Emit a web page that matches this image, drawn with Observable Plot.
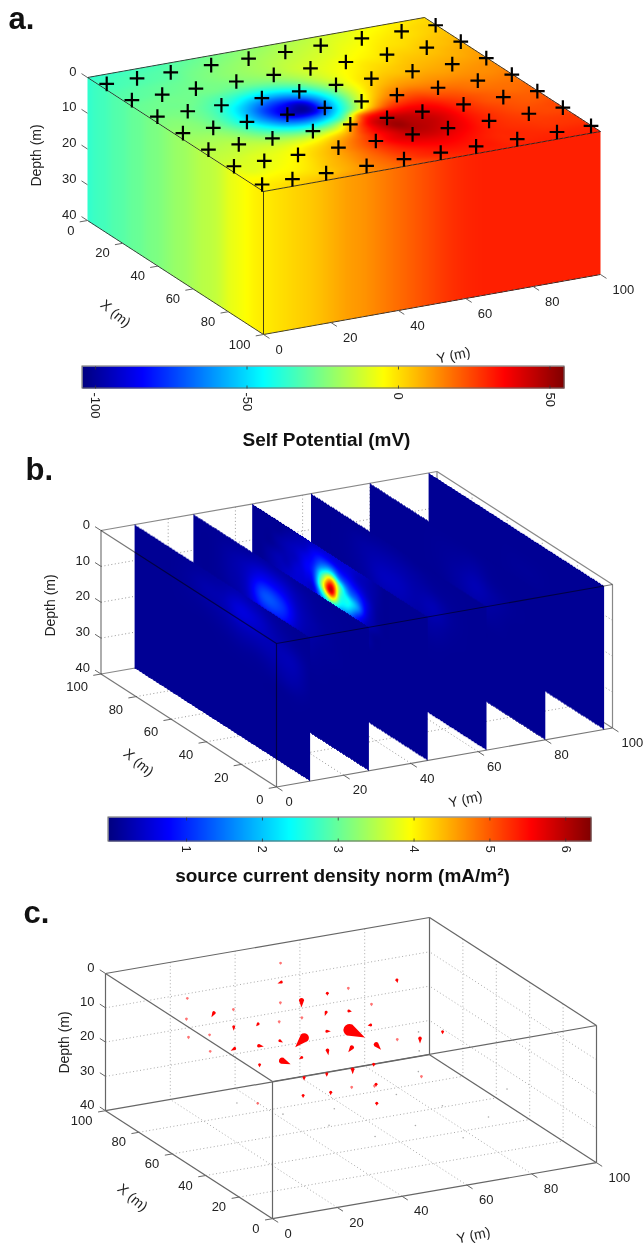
<!DOCTYPE html>
<html><head><meta charset="utf-8">
<script src="https://cdn.jsdelivr.net/npm/d3@7"></script>
<script src="https://cdn.jsdelivr.net/npm/@observablehq/plot@0.6"></script>
<style>html,body{margin:0;background:#fff}svg{display:block}</style>
</head><body><div id="chart"></div>
<script>
// ---------- data ----------
// Self potential (mV) on the top surface: rows X = 0..100 by 5, columns Y = 0..100 by 5
const potentialRows = [
[-37,-36,-35,-34,-33,-31,-29,-27,-25,-23,-21,-19,-17,-15,-12,-10,-7,-5,-3,-1,1],
[-35,-34,-33,-32,-31,-29,-27,-25,-23,-21,-19,-17,-15,-13,-10,-8,-5,-3,-1,1,2],
[-34,-33,-32,-31,-30,-27,-25,-23,-21,-19,-17,-15,-13,-11,-8,-6,-3,-1,0,2,4],
[-32,-31,-30,-29,-28,-26,-24,-22,-20,-18,-15,-13,-11,-9,-6,-4,-1,0,2,4,5],
[-31,-30,-29,-28,-27,-26,-25,-23,-21,-18,-14,-11,-9,-6,-4,-2,1,2,4,5,7],
[-29,-28,-27,-27,-27,-27,-28,-27,-25,-21,-16,-11,-7,-4,-1,0,3,4,5,7,8],
[-28,-27,-27,-27,-30,-33,-36,-38,-35,-29,-20,-12,-6,-2,1,3,5,6,7,8,10],
[-26,-26,-26,-29,-34,-41,-50,-54,-52,-42,-28,-15,-5,1,4,5,7,8,9,10,11],
[-25,-24,-26,-30,-39,-52,-65,-73,-71,-57,-37,-18,-4,4,8,9,10,10,11,12,13],
[-23,-23,-25,-31,-42,-59,-77,-88,-95,-67,-41,-17,0,10,13,13,13,13,13,13,14],
[-21,-22,-24,-30,-42,-59,-77,-95,-95,-64,-36,-10,8,17,20,18,17,16,15,15,16],
[-20,-20,-21,-26,-36,-50,-65,-73,-68,-48,-21,3,20,26,27,23,21,18,17,17,17],
[-18,-18,-18,-21,-28,-36,-45,-48,-41,-23,20,32,34,35,33,28,24,21,19,18,19],
[-16,-16,-15,-16,-19,-22,-25,-23,-14,12,38,45,44,41,37,31,26,22,21,20,20],
[-15,-14,-13,-12,-12,-11,-9,-3,6,25,40,50,46,44,39,32,27,24,22,21,22],
[-13,-12,-10,-9,-7,-3,1,8,17,28,38,46,46,43,38,32,28,25,23,23,24],
[-9,-10,-9,-7,-4,1,6,13,21,30,38,42,43,40,36,31,28,26,25,24,24],
[-7,-9,-7,-5,-2,3,8,14,21,28,34,37,38,36,33,30,28,27,26,26,26],
[-5,-5,-4,-3,0,5,9,15,20,26,30,33,34,33,31,29,29,28,27,27,27],
[-3,-2,-1,1,2,6,10,15,19,24,28,30,31,31,31,29,29,29,29,29,29],
[-2,0,2,4,7,10,12,15,18,21,24,27,29,30,30,30,30,30,30,30,30]];
// Electrodes ("+") on the top surface
const electrodeX = [6.7,21,35.5,50,64.5,79,95];
const electrodeY = [2.2,11.2,21.2,33.2,44.3,55.2,65.7,77.9,89.7,99.8];

// Source current density norm (mA/m2) on six vertical slices
const sliceY = [10,27.5,45,62.5,80,97.5];
// coarse slices: rows depth 0..40 by 5, columns X 0..100 by 10
const slice10 = [
[.1,.1,.15,.25,.3,.2,.15,.12,.1,.1,.1],
[.1,.15,.25,.45,.55,.3,.25,.15,.1,.1,.1],
[.12,.3,.3,.3,.3,.2,.15,.12,.1,.1,.1],
[.12,.25,.2,.15,.15,.12,.1,.1,.1,.1,.1],
[.1,.12,.1,.1,.1,.1,.1,.1,.1,.1,.1],
[.1,.1,.1,.1,.1,.1,.1,.1,.1,.1,.1],
[.1,.1,.1,.1,.1,.1,.1,.1,.1,.1,.1],
[.1,.1,.1,.1,.1,.1,.1,.1,.1,.1,.1],
[.1,.1,.1,.1,.1,.1,.1,.1,.1,.1,.1]];
const slice27 = [
[.1,.1,.1,.12,.15,.2,.2,.15,.12,.1,.1],
[.1,.1,.12,.15,.3,.6,.65,.35,.2,.1,.1],
[.1,.1,.12,.2,.4,1.1,1.25,.4,.2,.1,.1],
[.1,.1,.12,.15,.3,.7,.7,.3,.15,.1,.1],
[.1,.1,.1,.12,.15,.25,.25,.15,.1,.1,.1],
[.1,.1,.1,.1,.1,.1,.1,.1,.1,.1,.1],
[.1,.1,.1,.1,.1,.1,.1,.1,.1,.1,.1],
[.1,.1,.1,.1,.1,.1,.1,.1,.1,.1,.1],
[.1,.1,.1,.1,.1,.1,.1,.1,.1,.1,.1]];
// finest slice: rows depth 0..40 by 2.5, columns X 0..100 by 5
const slice45 = [
[.1,.1,.1,.1,.1,.1,.2,.3,.4,.5,.5,.5,.5,.4,.3,.2,.1,.1,.1,.1,.1],
[.1,.1,.1,.1,.1,.1,.2,.3,.4,.6,.7,.9,.9,.7,.4,.3,.2,.1,.1,.1,.1],
[.1,.1,.1,.1,.1,.1,.2,.4,.7,1.0,1.4,2.3,1.7,.9,.6,.4,.3,.2,.1,.1,.1],
[.1,.1,.1,.1,.1,.1,.2,.6,1.2,1.6,2.9,4.8,3.0,1.1,.7,.4,.3,.2,.1,.1,.1],
[.1,.1,.1,.1,.1,.1,.2,.6,1.7,2.4,2.8,5.9,3.6,1.0,.6,.5,.3,.3,.2,.1,.1],
[.1,.1,.1,.1,.1,.1,.2,.4,1.0,1.9,2.3,3.5,2.2,.6,.5,.5,.4,.3,.2,.1,.1],
[.1,.1,.1,.1,.1,.1,.1,.2,.4,.6,1.0,1.1,.8,.5,.5,.5,.4,.3,.2,.1,.1],
[.1,.1,.1,.1,.1,.1,.1,.2,.2,.3,.5,.5,.5,.5,.5,.4,.4,.3,.2,.1,.1],
[.1,.1,.1,.1,.1,.1,.1,.1,.1,.2,.2,.3,.3,.4,.4,.4,.3,.3,.2,.1,.1],
[.1,.1,.1,.1,.1,.1,.1,.1,.1,.1,.1,.2,.3,.3,.3,.3,.3,.3,.2,.1,.1],
[.1,.1,.1,.1,.1,.1,.1,.1,.1,.1,.1,.1,.2,.2,.2,.2,.2,.2,.1,.1,.1],
[.1,.1,.1,.1,.1,.1,.1,.1,.1,.1,.1,.1,.1,.1,.1,.1,.1,.1,.1,.1,.1],
[.1,.1,.1,.1,.1,.1,.1,.1,.1,.1,.1,.1,.1,.1,.1,.1,.1,.1,.1,.1,.1],
[.1,.1,.1,.1,.1,.1,.1,.1,.1,.1,.1,.1,.1,.1,.1,.1,.1,.1,.1,.1,.1],
[.1,.1,.1,.1,.1,.1,.1,.1,.1,.1,.1,.1,.1,.1,.1,.1,.1,.1,.1,.1,.1],
[.1,.1,.1,.1,.1,.1,.1,.1,.1,.1,.1,.1,.1,.1,.1,.1,.1,.1,.1,.1,.1],
[.1,.1,.1,.1,.1,.1,.1,.1,.1,.1,.1,.1,.1,.1,.1,.1,.1,.1,.1,.1,.1]];
const slice62 = [
[.1,.1,.1,.1,.1,.12,.12,.1,.1,.1,.1],
[.1,.1,.12,.15,.2,.25,.25,.2,.12,.1,.1],
[.1,.1,.15,.3,.25,.35,.35,.2,.12,.1,.1],
[.1,.1,.12,.2,.2,.25,.25,.15,.1,.1,.1],
[.1,.1,.1,.12,.12,.12,.12,.1,.1,.1,.1],
[.1,.1,.1,.1,.1,.1,.1,.1,.1,.1,.1],
[.1,.1,.1,.1,.1,.1,.1,.1,.1,.1,.1],
[.1,.1,.1,.1,.1,.1,.1,.1,.1,.1,.1],
[.1,.1,.1,.1,.1,.1,.1,.1,.1,.1,.1]];
const slice80 = [
[.1,.1,.1,.1,.1,.1,.1,.1,.1,.1,.1],
[.1,.1,.1,.12,.2,.15,.12,.1,.1,.1,.1],
[.1,.1,.12,.2,.3,.2,.12,.1,.1,.1,.1],
[.1,.1,.1,.15,.2,.15,.1,.1,.1,.1,.1],
[.1,.1,.1,.1,.1,.1,.1,.1,.1,.1,.1],
[.1,.1,.1,.1,.1,.1,.1,.1,.1,.1,.1],
[.1,.1,.1,.1,.1,.1,.1,.1,.1,.1,.1],
[.1,.1,.1,.1,.1,.1,.1,.1,.1,.1,.1],
[.1,.1,.1,.1,.1,.1,.1,.1,.1,.1,.1]];
const slice97 = [
[.1,.1,.1,.1,.1,.1,.1,.1,.1,.1,.1],
[.1,.1,.1,.1,.1,.1,.1,.1,.1,.1,.1],
[.1,.1,.1,.1,.12,.12,.1,.1,.1,.1,.1],
[.1,.1,.1,.1,.1,.1,.1,.1,.1,.1,.1],
[.1,.1,.1,.1,.1,.1,.1,.1,.1,.1,.1],
[.1,.1,.1,.1,.1,.1,.1,.1,.1,.1,.1],
[.1,.1,.1,.1,.1,.1,.1,.1,.1,.1,.1],
[.1,.1,.1,.1,.1,.1,.1,.1,.1,.1,.1],
[.1,.1,.1,.1,.1,.1,.1,.1,.1,.1,.1]];

// Current density cones (panel c)
const coneX = [78,78,64,65,64,66,80,94,68,84,70,70,95,94,69,93,93,78,79,79,64,64,94,92,79,70,71,71,63,65,65,49,49,49,50,35,34,36,98,69,84,93,92,80,36,21,35,35,36];
const coneY = [64,50,65,58,36,51,58,65,44,46,18,24,37,44,38,57,50,36,29,43,42,29,79,71,71,53,60,75,78,72,86,35,42,50,57,64,49,43,53,9,17,22,28,22,28,43,50,36,14];
const coneD = [20,20,20,20,20,20,20,20,5,5,5,5,20,20,5,20,20,20,20,20,20,20,20,20,20,5,5,5,20,20,20,20,20,20,20,20,20,20,5,5,5,20,20,20,20,20,20,20,20];
const coneStrength = [17,13,7,6,9,5,4,4,7,4,5,2,4,3,2,2,2,5,4.5,3.5,3,2.5,2,3,3,2.5,2,3,5,2,2.5,3,3,5,2.5,2,2,2,1.5,2,1.5,2,1.5,1.5,2.5,2.5,2.5,3,1.5];
const coneBearing = [116,224,137,217,112,170,90,200,180,250,210,180,180,220,180,180,180,100,240,120,240,180,180,100,260,180,180,170,180,180,180,180,180,180,180,180,180,180,180,180,180,180,180,180,180,180,180,180,180];
const speckX = [64,50,36,22,50,36,22,64,79,93,40,25,10,60];
const speckY = [22,29,36,43,64,71,78,78,86,93,93,57,64,50];
const speckD = [30,30,30,30,30,30,30,30,30,30,30,30,30,35];

// Tick labels
const distanceTicks = [0,20,40,60,80,100];
const depthTicks = [0,10,20,30,40];
const inner = [20,40,60,80];
const innerDepth = [10,20,30];
const potentialTicks = [-100,-50,0,50];
const densityTicks = [1,2,3,4,5,6];

// ---------- views: 3-D data space onto the page ----------
const viewA = {o:[87,77],  ex:[1.76,1.14],   ey:[3.37,-.6],  ed:[0,3.575]};
const viewB = {o:[276,643],ex:[-1.755,-1.13],ey:[3.36,-.59], ed:[0,3.5875]};
const viewC = {o:[272,1081],ex:[-1.67,-1.08],ey:[3.24,-.56], ed:[0,3.43]};
const px = (v,X,Y,D)=>v.o[0]+v.ex[0]*X+v.ey[0]*Y+v.ed[0]*D;
const py = (v,X,Y,D)=>v.o[1]+v.ex[1]*X+v.ey[1]*Y+v.ed[1]*D;

// ---------- colour: jet over 0..1, each panel normalises to it ----------
const cl = v=>Math.max(0,Math.min(1,v));
const jet = t0=>{const t=cl(t0);return `rgb(${Math.round(255*cl(Math.min(4*t-1.5,-4*t+4.5)))},${Math.round(255*cl(Math.min(4*t-.5,-4*t+3.5)))},${Math.round(255*cl(Math.min(4*t+.5,-4*t+2.5)))})`;};
const potentialDomain=[-104.3,54.8], densityDomain=[-.03,6.34];
const norm=(dom,v)=>(v-dom[0])/(dom[1]-dom[0]);

// smooth reading of a table (u, v in fractional column / row)
const cr=(a,b,c,d,t)=>b+.5*t*(c-a+t*(2*a-5*b+4*c-d+t*(3*(b-c)+d-a)));
function read(rows,u,v){
  const nr=rows.length,nc=rows[0].length;
  const i=Math.max(0,Math.min(nr-2,Math.floor(v))),j=Math.max(0,Math.min(nc-2,Math.floor(u)));
  const s=u-j,t=v-i,ci=k=>Math.max(0,Math.min(nr-1,k)),cj=k=>Math.max(0,Math.min(nc-1,k));
  const rowAt=k=>{const r=rows[ci(k)];return cr(r[cj(j-1)],r[j],r[cj(j+1)],r[cj(j+2)],s);};
  return cr(rowAt(i-1),rowAt(i),rowAt(i+1),rowAt(i+2),t);
}
const potentialAt=(X,Y)=>read(potentialRows,Y/5,X/5);

// ---------- faces of panel a ----------
const det=viewA.ex[0]*viewA.ey[1]-viewA.ey[0]*viewA.ex[1];
const topFace=(x,y)=>{const a=x-viewA.o[0],b=y-viewA.o[1];
  const X=(a*viewA.ey[1]-b*viewA.ey[0])/det,Y=(b*viewA.ex[0]-a*viewA.ex[1])/det;
  return X<0||X>100||Y<0||Y>100?NaN:norm(potentialDomain,potentialAt(X,Y));};
const leftFace=(x,y)=>{const X=(x-viewA.o[0])/viewA.ex[0];
  const D=(y-py(viewA,X,0,0))/viewA.ed[1];
  return X<0||X>100||D<0||D>40?NaN:norm(potentialDomain,potentialAt(X,0));};
const frontFace=(x,y)=>{const Y=(x-px(viewA,100,0,0))/viewA.ey[0];
  const D=(y-py(viewA,100,Y,0))/viewA.ed[1];
  return Y<0||Y>100||D<0||D>40?NaN:norm(potentialDomain,potentialAt(100,Y));};

// ---------- slices of panel b ----------
const sliceTables=[[slice10,10,5],[slice27,10,5],[slice45,5,2.5],[slice62,10,5],[slice80,10,5],[slice97,10,5]];
function sliceMark(k){
  const Y=sliceY[k],[rows,dx,dd]=sliceTables[k];
  const x0=px(viewB,100,Y,0),x1=px(viewB,0,Y,0),y0=py(viewB,100,Y,0),y1=py(viewB,0,Y,40);
  return Plot.raster({fill:(x,y)=>{const X=100-(x-x0)/(x1-x0)*100;const D=(y-py(viewB,X,Y,0))/viewB.ed[1];
      return X<0||X>100||D<0||D>40?NaN:norm(densityDomain,Math.max(0,read(rows,X/dx,D/dd)));},
    x1:x0,x2:x1,y1:y0,y2:y1});
}

// ---------- helpers building tables for marks ----------
const seg=(v,a,b)=>({x1:px(v,...a),y1:py(v,...a),x2:px(v,...b),y2:py(v,...b)});
const link=(rows,o)=>Plot.link(rows,{x1:"x1",y1:"y1",x2:"x2",y2:"y2",...o});
const FONT="Liberation Sans, Arial, sans-serif";
const label=(v,rows,o)=>Plot.text(rows,{x:d=>px(v,d.X,d.Y,d.D),y:d=>py(v,d.X,d.Y,d.D),text:"t",fontFamily:FONT,fontSize:13,fill:"#222",...o});

function grids(v){return [
  ...inner.map(Y=>seg(v,[100,Y,0],[100,Y,40])),
  ...innerDepth.map(D=>seg(v,[100,0,D],[100,100,D])),
  ...inner.map(X=>seg(v,[X,100,0],[X,100,40])),
  ...innerDepth.map(D=>seg(v,[0,100,D],[100,100,D])),
  ...inner.map(X=>seg(v,[X,0,40],[X,100,40])),
  ...inner.map(Y=>seg(v,[0,Y,40],[100,Y,40]))];}
function axes(v,xBack,o){ // xBack: X value of the far-left corner, 0 in a, 100 in b and c
  const xFront=100-xBack, out=xBack===0?-3.4:3.4, outF=xBack===0?3.4:-3.4;
  const ticks=[
    ...depthTicks.map(D=>seg(v,[xBack,0,D],[xBack+out,0,D])),
    ...distanceTicks.map(X=>seg(v,[X,0,40],[X,-2.3,40])),
    ...distanceTicks.map(Y=>seg(v,[xFront,Y,40],[xFront+outF,Y,40]))];
  return [
    link(ticks,{stroke:"#666",strokeWidth:1}),
    label(v,depthTicks.map(D=>({X:xBack,Y:0,D,t:String(D)})),{textAnchor:"end",dx:-11,dy:-6}),
    label(v,distanceTicks.map(X=>({X,Y:0,D:40,t:String(X)})),{textAnchor:"end",dx:-13,dy:o.xDy}),
    label(v,distanceTicks.map(Y=>({X:xFront,Y,D:40,t:String(Y)})),{textAnchor:"start",dx:o.yDx,dy:15})];
}
function colorBar(x1,x2,y1,y2,dom,ticks){
  const tx=v=>x1+(x2-x1)*norm(dom,v);
  return [
    Plot.raster({fill:(x,y)=>(x-x1)/(x2-x1),x1,x2,y1,y2}),
    Plot.rect([{}],{x1:()=>x1,x2:()=>x2,y1:()=>y1,y2:()=>y2,fill:"none",stroke:"#666",strokeWidth:1}),
    Plot.link(ticks,{x1:tx,x2:tx,y1:()=>y1,y2:()=>y1+3,stroke:"#333",strokeWidth:.8}),
    Plot.link(ticks,{x1:tx,x2:tx,y1:()=>y2-3,y2:()=>y2,stroke:"#333",strokeWidth:.8}),
    Plot.text(ticks,{x:tx,y:()=>y2+4,text:d=>String(d),rotate:90,textAnchor:"start",fontFamily:FONT,fontSize:13,fill:"#222"})
  ];
}
const free=(rows,o)=>Plot.text(rows,{x:"x",y:"y",text:"t",fontFamily:FONT,fill:"#222",...o});

// current cone drawn with the vector mark
const cone={draw(ctx,l){const w=Math.max(1.5,l*.36);ctx.moveTo(0,-l);ctx.lineTo(w,0);ctx.arc(0,0,w,0,Math.PI);ctx.closePath();}};
const cones=coneX.map((X,i)=>({X,Y:coneY[i],D:coneD[i],s:coneStrength[i],b:coneBearing[i]}));
const specks=speckX.map((X,i)=>({X,Y:speckY[i],D:speckD[i]}));
const electrodes=electrodeX.flatMap(X=>electrodeY.map(Y=>({X,Y})));

const A=viewA,B=viewB,C=viewC;
const chart=Plot.plot({
  width:644,height:1245,margin:0,
  x:{domain:[0,644],range:[0,644],axis:null},
  y:{domain:[0,1245],range:[0,1245],axis:null},
  color:{type:"linear",domain:[0,1],interpolate:jet},
  length:{type:"identity"},
  style:{background:"#fff"},
  marks:[
    // ---------- panel a ----------
    Plot.raster({fill:topFace,x1:87,x2:601,y1:16,y2:193}),
    Plot.raster({fill:leftFace,x1:87,x2:264,y1:76,y2:336}),
    Plot.raster({fill:frontFace,x1:263,x2:601,y1:130,y2:336}),
    link([seg(A,[0,0,0],[100,0,0]),seg(A,[100,0,0],[100,100,0]),seg(A,[0,0,0],[0,100,0]),seg(A,[0,100,0],[100,100,0]),
      seg(A,[100,0,0],[100,0,40]),seg(A,[0,0,40],[100,0,40]),seg(A,[100,0,40],[100,100,40])],{stroke:"#444",strokeWidth:1,mixBlendMode:"multiply"}),
    ...axes(A,0,{xDy:10,yDx:12}),
    Plot.dot(electrodes,{x:d=>px(A,d.X,d.Y,0),y:d=>py(A,d.X,d.Y,0),symbol:"plus",r:4.8,stroke:"#000",strokeWidth:2.2}),
    free([{x:8,y:28,t:"a."}],{fontSize:31,fontWeight:"bold",textAnchor:"start",lineAnchor:"bottom",fill:"#111"}),
    free([{x:36,y:155,t:"Depth (m)"}],{fontSize:14,rotate:-90}),
    free([{x:115,y:313,t:"X (m)"}],{fontSize:14,rotate:40}),
    free([{x:453,y:355,t:"Y (m)"}],{fontSize:14,rotate:-12}),
    ...colorBar(82,564,366,388,potentialDomain,potentialTicks),
    free([{x:326,y:439,t:"Self Potential (mV)"}],{fontSize:19,fontWeight:"bold",fill:"#111"}),

    // ---------- panel b ----------
    link(grids(B),{stroke:"#999",strokeWidth:1,strokeDasharray:"1,2.5"}),
    link([seg(B,[100,0,0],[100,100,0]),seg(B,[100,100,0],[0,100,0]),seg(B,[100,0,40],[100,100,40]),seg(B,[100,100,40],[0,100,40]),seg(B,[100,100,0],[100,100,40]),seg(B,[0,100,0],[0,100,40])],{stroke:"#888",strokeWidth:1.2}),
    ...[5,4,3,2,1,0].map(sliceMark),
    link([seg(B,[100,0,0],[0,0,0]),seg(B,[0,0,0],[0,100,0]),seg(B,[100,0,0],[100,0,40]),seg(B,[0,0,0],[0,0,40]),seg(B,[100,0,40],[0,0,40]),seg(B,[0,0,40],[0,100,40])],{stroke:"#777",strokeWidth:1.2,mixBlendMode:"multiply"}),
    ...axes(B,100,{xDy:13,yDx:9}),
    free([{x:25,y:470,t:"b."}],{fontSize:31,fontWeight:"bold",textAnchor:"start",lineAnchor:"bottom",dy:9,fill:"#111"}),
    free([{x:50,y:605,t:"Depth (m)"}],{fontSize:14,rotate:-90}),
    free([{x:138,y:762,t:"X (m)"}],{fontSize:14,rotate:40}),
    free([{x:465,y:799,t:"Y (m)"}],{fontSize:14,rotate:-12}),
    ...colorBar(108,591,817,841,densityDomain,densityTicks),
    free([{x:342,y:875,t:"source current density norm (mA/m²)"}],{fontSize:19,fontWeight:"bold",fill:"#111"}),

    // ---------- panel c ----------
    link(grids(C),{stroke:"#aaa",strokeWidth:1,strokeDasharray:"1,2.5"}),
    link([seg(C,[100,0,0],[100,100,0]),seg(C,[100,100,0],[0,100,0]),seg(C,[0,100,0],[0,0,0]),seg(C,[0,0,0],[100,0,0]),
      seg(C,[100,0,40],[100,100,40]),seg(C,[100,100,40],[0,100,40]),seg(C,[0,100,40],[0,0,40]),seg(C,[0,0,40],[100,0,40]),
      seg(C,[100,0,0],[100,0,40]),seg(C,[100,100,0],[100,100,40]),seg(C,[0,100,0],[0,100,40]),seg(C,[0,0,0],[0,0,40])],{stroke:"#666",strokeWidth:1.2}),
    Plot.dot(specks,{x:d=>px(C,d.X,d.Y,d.D),y:d=>py(C,d.X,d.Y,d.D),r:.8,fill:"#aaa"}),
    Plot.vector(cones,{x:d=>px(C,d.X,d.Y,d.D),y:d=>py(C,d.X,d.Y,d.D),length:"s",rotate:"b",anchor:"start",shape:cone,fill:"#f00",stroke:"none",fillOpacity:d=>d.s<2.5?.55:1}),
    ...axes(C,100,{xDy:10,yDx:12}),
    free([{x:23,y:922,t:"c."}],{fontSize:31,fontWeight:"bold",textAnchor:"start",lineAnchor:"bottom",fill:"#111"}),
    free([{x:64,y:1042,t:"Depth (m)"}],{fontSize:14,rotate:-90}),
    free([{x:132,y:1197,t:"X (m)"}],{fontSize:14,rotate:40}),
    free([{x:473,y:1235,t:"Y (m)"}],{fontSize:14,rotate:-12})
  ]
});
document.getElementById("chart").append(chart);
</script></body></html>
